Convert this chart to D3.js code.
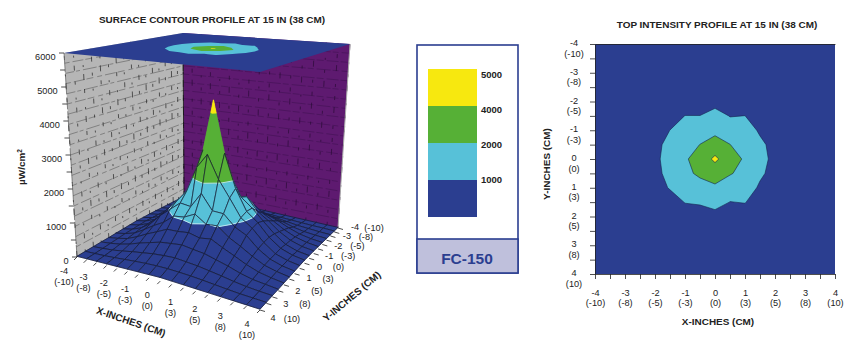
<!DOCTYPE html>
<html>
<head>
<meta charset="utf-8">
<script src="https://cdn.jsdelivr.net/npm/d3@7"></script>
<style>
	html, body { margin: 0; background: #fff; }
	svg { display: block; }
	text { font-family: "Liberation Sans", Arial, sans-serif; fill: #222; }
	.title { font-size: 9.95px; font-weight: bold; text-anchor: middle; }
	.tick-label { font-size: 9.2px; text-anchor: middle; dominant-baseline: central; }
</style>
</head>
<body>
<svg id="chart" width="864" height="360"></svg>
<script>
// inches along both sides of the plate, half inch steps
const GRID_STEPS = [-4, -3.5, -3, -2.5, -2, -1.5, -1, -0.5, 0, 0.5, 1, 1.5, 2, 2.5, 3, 3.5, 4];
const INCH_TICKS = [-4, -3, -2, -1, 0, 1, 2, 3, 4];
const CM_TICKS = [-10, -8, -5, -3, 0, 3, 5, 8, 10];
const Z_TICKS = [0, 500, 1000, 1500, 2000, 2500, 3000, 3500, 4000, 4500, 5000, 5500, 6000];
const Z_LABELS = [0, 1000, 2000, 3000, 4000, 5000, 6000];
const WALL_LEVELS = [300, 600, 900, 1200, 1500, 1800, 2100, 2400, 2700, 3000, 3300, 3600, 3900, 4200, 4500, 4800, 5100, 5400, 5700];

// uW/cm2, one row per y from -4 to 4, columns x from -4 to 4
const INTENSITY = [
	[20, 30, 40, 50, 60, 70, 80, 90, 100, 90, 80, 70, 60, 50, 40, 30, 20],
	[30, 50, 60, 80, 100, 120, 140, 160, 180, 160, 140, 120, 100, 80, 60, 50, 30],
	[40, 60, 90, 120, 170, 220, 260, 300, 340, 300, 260, 220, 170, 120, 90, 60, 40],
	[50, 80, 120, 190, 290, 380, 450, 530, 580, 530, 450, 380, 290, 190, 120, 80, 50],
	[60, 100, 170, 290, 440, 580, 690, 640, 800, 640, 680, 560, 440, 290, 170, 100, 60],
	[70, 120, 210, 360, 560, 720, 1010, 1010, 1220, 980, 1005, 740, 560, 360, 210, 120, 70],
	[80, 130, 240, 430, 700, 1005, 1300, 1250, 1510, 1250, 1300, 915, 690, 430, 240, 130, 80],
	[80, 140, 260, 500, 840, 1180, 1400, 2020, 2800, 2020, 1400, 1130, 805, 490, 250, 130, 80],
	[90, 150, 270, 530, 880, 1230, 1775, 2800, 4400, 2800, 1775, 1150, 880, 520, 270, 150, 90],
	[80, 140, 260, 510, 840, 1180, 1555, 2350, 2800, 2100, 1600, 1080, 840, 500, 250, 140, 80],
	[70, 130, 250, 460, 780, 1040, 1300, 1256, 1720, 1267, 1250, 930, 760, 450, 240, 130, 70],
	[60, 120, 210, 390, 590, 760, 1020, 1060, 1220, 990, 1020, 760, 580, 380, 210, 120, 60],
	[50, 100, 170, 300, 460, 600, 750, 760, 800, 720, 770, 600, 450, 290, 170, 100, 50],
	[45, 80, 130, 210, 320, 410, 500, 540, 580, 530, 490, 400, 310, 200, 120, 80, 40],
	[35, 60, 90, 140, 200, 250, 300, 330, 350, 320, 290, 240, 190, 130, 85, 55, 35],
	[30, 45, 60, 85, 115, 145, 170, 185, 190, 180, 165, 140, 110, 80, 55, 40, 25],
	[20, 30, 40, 50, 60, 70, 80, 90, 100, 90, 80, 70, 60, 50, 40, 30, 20],
];

const BAND_LIMITS = [0, 1000, 2000, 4000, 7000];
const BAND_COLORS = ['#2b3e90', '#57c1d8', '#56b036', '#f7e80f'];
const LEGEND_LABELS = [5000, 4000, 2000, 1000];
const MODEL_NAME = 'FC-150';

const NAVY = '#2b3e90';
const svg = d3.select('#chart');

function twoLineLabel(group, inch, cm, dx1, dy1, dx2, dy2) {
	group.append('text').attr('class', 'tick-label').attr('x', dx1).attr('y', dy1).text(inch);
	group.append('text').attr('class', 'tick-label').attr('x', dx2).attr('y', dy2).text(`(${cm})`);
}

// projective map of the unit square onto four corners (0,0) (1,0) (1,1) (0,1)
function squareToQuad(q) {
	const [p0, p1, p2, p3] = q;
	const dx1 = p1[0] - p2[0], dx2 = p3[0] - p2[0], sx = p0[0] - p1[0] + p2[0] - p3[0];
	const dy1 = p1[1] - p2[1], dy2 = p3[1] - p2[1], sy = p0[1] - p1[1] + p2[1] - p3[1];
	const den = dx1 * dy2 - dx2 * dy1;
	const g = (sx * dy2 - dx2 * sy) / den;
	const h = (dx1 * sy - sx * dy1) / den;
	const a = p1[0] - p0[0] + g * p1[0], b = p3[0] - p0[0] + h * p3[0];
	const d = p1[1] - p0[1] + g * p1[1], e = p3[1] - p0[1] + h * p3[1];
	return (u, v) => {
		const w = g * u + h * v + 1;
		return [(a * u + b * v + p0[0]) / w, (d * u + e * v + p0[1]) / w];
	};
}

// d3.contours puts a value at the middle of its cell
const gridToInch = d3.scaleLinear().domain([0.5, 16.5]).range([-4, 4]);
const contourShapes = d3.contours()
	.size([GRID_STEPS.length, GRID_STEPS.length])
	.thresholds(BAND_LIMITS.slice(1, 4))(INTENSITY.flat());

function contourPath(toScreen) {
	return d3.geoPath(d3.geoTransform({
		point(cx, cy) {
			const p = toScreen(gridToInch(cx), gridToInch(cy));
			this.stream.point(p[0], p[1]);
		}
	}));
}

function renderSurface() {
	const uScale = d3.scaleLinear().domain([-4, 4]).range([0, 1]);
	const vScale = d3.scaleLinear().domain([-4, 4]).range([0, 1]);
	const tScale = d3.scaleLinear().domain([0, 6000]).range([0, 1]);
	const floor = squareToQuad([[184, 197], [338, 228], [260, 310], [77, 257]]);
	const roof = squareToQuad([[183, 33], [350, 44], [260, 72], [64, 53]]);

	function project(x, y, z) {
		const a = floor(uScale(x), vScale(y));
		const b = roof(uScale(x), vScale(y));
		const t = tScale(z);
		return [a[0] + (b[0] - a[0]) * t, a[1] + (b[1] - a[1]) * t];
	}
	const line = d3.line();
	const closed = (pts) => line(pts) + 'Z';

	const g = svg.append('g');

	// walls
	const wallLeft = [[-4, 4, 0], [-4, -4, 0], [-4, -4, 6000], [-4, 4, 6000]];
	const wallRight = [[-4, -4, 0], [4, -4, 0], [4, -4, 6000], [-4, -4, 6000]];
	g.append('path').attr('d', closed(wallLeft.map((p) => project(...p)))).attr('fill', '#b6b6b6');
	g.append('path').attr('d', closed(wallRight.map((p) => project(...p)))).attr('fill', '#5e1a70');

	const wallGrid = g.append('g').attr('fill', 'none');
	function wallLine(a, b, stroke, width, dash) {
		wallGrid.append('path')
			.attr('d', line([project(...a), project(...b)]))
			.attr('stroke', stroke)
			.attr('stroke-width', width)
			.attr('stroke-dasharray', dash);
	}
	WALL_LEVELS.forEach((z, i) => {
		wallLine([-4, 4, z], [-4, -4, z], '#555', 0.55, i % 2 ? '9 2 4 3 14 2' : '5 3 11 2 7 4');
		wallLine([-4, -4, z], [4, -4, z], '#3f1050', 0.55, i % 2 ? '12 2 7 3' : '6 3 14 2');
	});
	GRID_STEPS.forEach((s, i) => {
		wallLine([-4, s, 0], [-4, s, 6000], '#222', 0.7, i % 2 ? '3 11 5 8 2 13' : '6 7 2 14 4 9');
		wallLine([s, -4, 0], [s, -4, 6000], '#2a0a36', 0.7, i % 2 ? '4 9 3 13 6 7' : '2 12 6 8 3 10');
	});
	wallLine([-4, -4, 0], [-4, -4, 6000], '#111', 0.8, null);
	wallLine([-4, 4, 0], [-4, 4, 6000], '#444', 0.6, '12 3 20 2');
	wallLine([4, -4, 0], [4, -4, 6000], '#aaa', 1, null);

	// surface, back corner first so nearer cells hide it
	const quads = [];
	for(let j = 0; j < GRID_STEPS.length - 1; j++) {
		for(let i = 0; i < GRID_STEPS.length - 1; i++) {
			quads.push([[i, j], [i + 1, j], [i + 1, j + 1], [i, j + 1]]);
		}
	}
	quads.sort((a, b) => (a[0][0] + a[0][1]) - (b[0][0] + b[0][1]));

	function clipZ(pts, level, keepAbove) {
		const out = [];
		pts.forEach((p, n) => {
			const q = pts[(n + 1) % pts.length];
			const pIn = keepAbove ? p[2] >= level : p[2] <= level;
			const qIn = keepAbove ? q[2] >= level : q[2] <= level;
			if(pIn) out.push(p);
			if(pIn != qIn) {
				const t = (level - p[2]) / (q[2] - p[2]);
				out.push([p[0] + (q[0] - p[0]) * t, p[1] + (q[1] - p[1]) * t, level]);
			}
		});
		return out;
	}

	const surface = g.append('g');
	for(const quad of quads) {
		const pts = quad.map(([i, j]) => [GRID_STEPS[i], GRID_STEPS[j], INTENSITY[j][i]]);
		BAND_COLORS.forEach((color, b) => {
			const piece = clipZ(clipZ(pts, BAND_LIMITS[b], true), BAND_LIMITS[b + 1], false);
			if(piece.length < 3) return;
			surface.append('path')
				.attr('d', closed(piece.map((p) => project(...p))))
				.attr('fill', color)
				.attr('stroke', color)
				.attr('stroke-width', 0.4);
			// pale seam where two lower bands meet
			if(b > 0 && b < 3) {
				const seam = piece.filter((p) => p[2] == BAND_LIMITS[b]);
				if(seam.length == 2) {
					surface.append('path')
						.attr('d', line(seam.map((p) => project(...p))))
						.attr('stroke', '#c4eaf2')
						.attr('stroke-width', 0.9);
				}
			}
		});
		// the picture has no mesh on the tip of the spike
		let mesh = '';
		pts.forEach((p, n) => {
			const q = pts[(n + 1) % 4];
			if(p[2] > BAND_LIMITS[3] || q[2] > BAND_LIMITS[3]) return;
			mesh += line([project(...p), project(...q)]);
		});
		surface.append('path')
			.attr('d', mesh)
			.attr('fill', 'none')
			.attr('stroke', '#14182e')
			.attr('stroke-width', 0.7);
	}

	// roof plate with the same contours on it
	g.append('path')
		.attr('d', closed([[-4, -4], [4, -4], [4, 4], [-4, 4]].map(([x, y]) => project(x, y, 6000))))
		.attr('fill', NAVY);
	const roofPath = contourPath((x, y) => project(x, y, 6000));
	g.append('g').selectAll('path')
		.data(contourShapes)
		.join('path')
		.attr('d', roofPath)
		.attr('fill', (d, i) => BAND_COLORS[i + 1]);

	// axes
	const axes = g.append('g').attr('stroke', '#222').attr('stroke-width', 0.8);
	function tick(p, dx, dy) {
		axes.append('path').attr('d', line([p, [p[0] + dx, p[1] + dy]]));
	}
	Z_TICKS.forEach((z) => tick(project(-4, 4, z), -5, 0));
	GRID_STEPS.forEach((s) => {
		tick(project(s, 4, 0), -3, 3);
		tick(project(4, s, 0), 5, 1.5);
	});

	Z_LABELS.forEach((z) => {
		const p = project(-4, 4, z);
		g.append('text')
			.attr('class', 'tick-label')
			.style('text-anchor', 'end')
			.attr('x', p[0] - 8.5)
			.attr('y', p[1] + 4)
			.text(z);
	});
	// the y labels drift away from their ticks towards the far corner
	const yLabelDx = d3.scaleLinear().domain([-4, 4]).range([17, 13]);
	const yLabelDy = d3.scaleLinear().domain([-4, 4]).range([-1, 8]);
	INCH_TICKS.forEach((s, i) => {
		const p = project(s, 4, 0);
		twoLineLabel(g.append('g').attr('transform', `translate(${p})`), s, CM_TICKS[i], -13, 14, -13, 25);
		const r = project(4, s, 0);
		const dx = yLabelDx(s), dy = yLabelDy(s);
		twoLineLabel(g.append('g').attr('transform', `translate(${r})`), s, CM_TICKS[i], dx, dy, dx + 19, dy + 0.5);
	});

	g.append('text').attr('class', 'title').attr('x', 212).attr('y', 23)
		.text('SURFACE CONTOUR PROFILE AT 15 IN (38 CM)');
	g.append('text').attr('class', 'title').attr('transform', 'translate(130,325) rotate(19)')
		.text('X-INCHES (CM)');
	g.append('text').attr('class', 'title').attr('transform', 'translate(354,299) rotate(-40)')
		.text('Y-INCHES (CM)');
	const zTitle = g.append('text').attr('class', 'title').attr('transform', 'translate(25,167) rotate(-90)');
	zTitle.append('tspan').text('µW/cm');
	zTitle.append('tspan').attr('dy', -3).style('font-size', '6.5px').text('2');
}

function renderLegend() {
	const g = svg.append('g');
	const bandY = d3.scaleBand().domain(LEGEND_LABELS).range([69, 217]);
	const labelY = d3.scalePoint().domain(LEGEND_LABELS).range([74, 179]);
	const swatches = BAND_COLORS.slice().reverse();

	g.append('rect').attr('x', 417).attr('y', 45).attr('width', 101).attr('height', 228)
		.attr('fill', '#fff').attr('stroke', NAVY).attr('stroke-width', 1.6);
	g.append('rect').attr('x', 417).attr('y', 239).attr('width', 101).attr('height', 34)
		.attr('fill', '#bfc0dc').attr('stroke', NAVY).attr('stroke-width', 1.6);
	g.selectAll('.swatch')
		.data(LEGEND_LABELS)
		.join('rect')
		.attr('class', 'swatch')
		.attr('x', 428)
		.attr('width', 49)
		.attr('y', (d) => bandY(d))
		.attr('height', bandY.bandwidth())
		.attr('fill', (d, i) => swatches[i]);
	g.selectAll('.swatch-label')
		.data(LEGEND_LABELS)
		.join('text')
		.attr('class', 'swatch-label')
		.attr('x', 481)
		.attr('y', (d) => labelY(d))
		.attr('dominant-baseline', 'central')
		.style('font-size', '9.5px')
		.style('font-weight', 'bold')
		.text((d) => d);
	g.append('text')
		.attr('x', 467)
		.attr('y', 258)
		.attr('text-anchor', 'middle')
		.attr('dominant-baseline', 'central')
		.style('font-size', '15.5px')
		.style('font-weight', 'bold')
		.style('fill', NAVY)
		.text(MODEL_NAME);
}

function renderTopView() {
	const x = d3.scaleLinear().domain([-4, 4]).range([595, 835]);
	const y = d3.scaleLinear().domain([-4, 4]).range([44, 274]);
	const g = svg.append('g');

	g.append('rect')
		.attr('x', x(-4)).attr('y', y(-4))
		.attr('width', x(4) - x(-4)).attr('height', y(4) - y(-4))
		.attr('fill', NAVY);
	g.append('g').selectAll('path')
		.data(contourShapes)
		.join('path')
		.attr('d', contourPath((a, b) => [x(a), y(b)]))
		.attr('fill', (d, i) => BAND_COLORS[i + 1])
		.attr('stroke', '#14234f')
		.attr('stroke-width', 0.6);

	const xAxis = g.append('g')
		.attr('transform', `translate(0,${y(4)})`)
		.call(d3.axisBottom(x).tickValues(GRID_STEPS).tickSizeInner(5).tickSizeOuter(0).tickFormat(''));
	const yAxis = g.append('g')
		.attr('transform', `translate(${x(-4)},0)`)
		.call(d3.axisLeft(y).tickValues(GRID_STEPS).tickSizeInner(5).tickSizeOuter(0).tickFormat(''));
	g.append('g')
		.attr('transform', `translate(0,${y(-4)})`)
		.call(d3.axisTop(x).tickValues([]).tickSizeOuter(0));
	g.selectAll('.domain').attr('stroke', '#222').attr('stroke-width', 0.8);
	g.selectAll('.tick line').attr('stroke', '#222').attr('stroke-width', 0.8);

	xAxis.selectAll('.tick').each(function(d) {
		const i = INCH_TICKS.indexOf(d);
		if(i < 0) return;
		twoLineLabel(d3.select(this), d, CM_TICKS[i], 0, 18.5, 0, 29);
	});
	yAxis.selectAll('.tick').each(function(d) {
		const i = INCH_TICKS.indexOf(d);
		if(i < 0) return;
		twoLineLabel(d3.select(this), d, CM_TICKS[i], -21, -1.5, -21, 9);
	});

	g.append('text').attr('class', 'title').attr('x', 717).attr('y', 28)
		.text('TOP INTENSITY PROFILE AT 15 IN (38 CM)');
	g.append('text').attr('class', 'title').attr('x', 718).attr('y', 325)
		.text('X-INCHES (CM)');
	g.append('text').attr('class', 'title').attr('transform', 'translate(550,164) rotate(-90)')
		.text('Y-INCHES (CM)');
}

renderSurface();
renderLegend();
renderTopView();
</script>
</body>
</html>
